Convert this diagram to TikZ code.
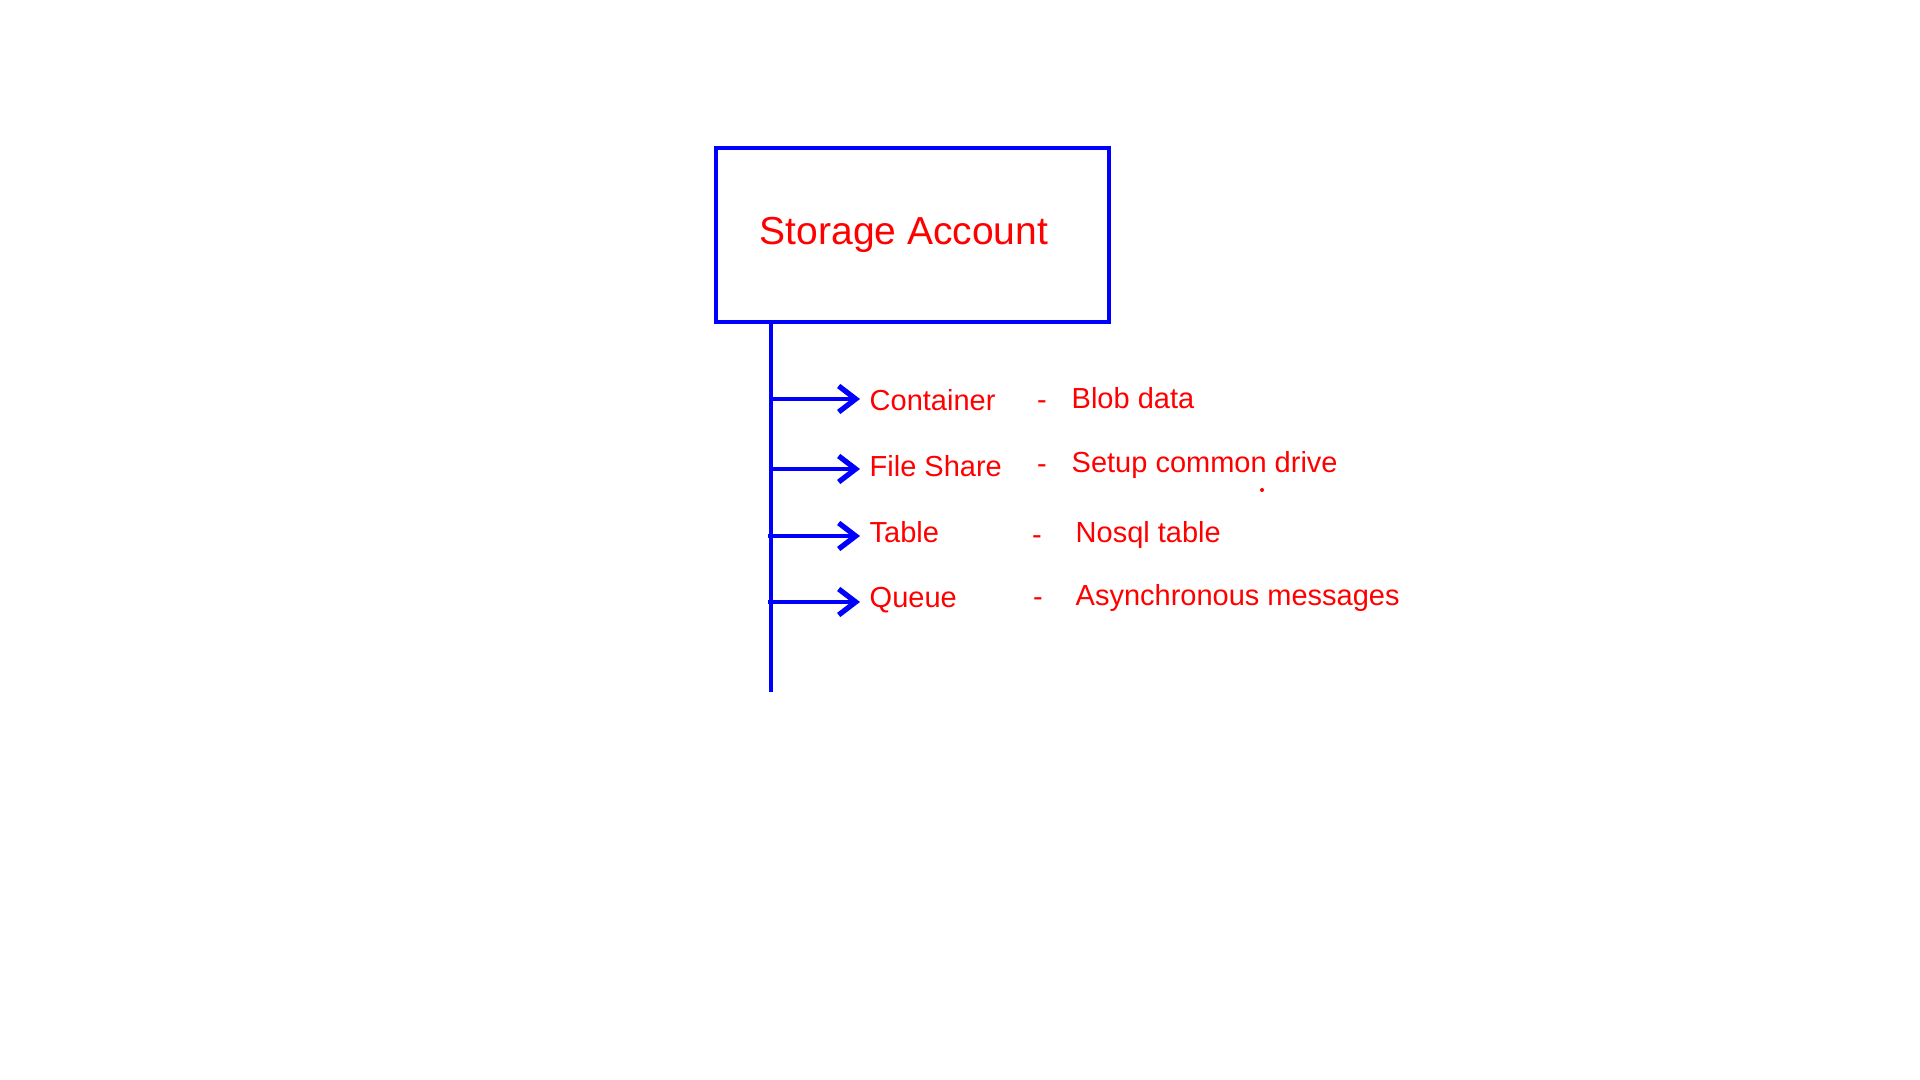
\documentclass[tikz,border=0pt]{standalone}
\usepackage{fontspec}
\setmainfont{Liberation Sans}
\usepackage{xcolor}
\usetikzlibrary{arrows.meta, positioning}

\begin{document}
\begin{tikzpicture}[every node/.style={font=\fontsize{8.25}{10}\selectfont, text=red},
    arr/.style={blue, line width=1.1pt, -{Straight Barb[length=0.17cm, width=0.26cm, line width=1.5pt]}},
    lbl/.style={anchor=base west, inner xsep=0.09cm, inner ysep=0pt},
    dsc/.style={anchor=base west, inner sep=0pt}]
    \useasboundingbox (0,0) rectangle (19.2,10.8);
    \node[draw=blue,line width=1.1pt,minimum width=3.93cm,minimum height=1.74cm,font=\fontsize{11.1}{13}\selectfont] (acct) at (9.125,8.45) {Storage Account\hspace*{0.17cm}};
    \coordinate (bot) at (7.714,3.88);
    \draw[blue,line width=1.1pt] (acct.south -| bot) -- (bot);
    \coordinate (c1) at (7.714,6.81);
    \coordinate (c2) at (7.714,6.11);
    \coordinate (c3) at (7.68,5.44);
    \coordinate (c4) at (7.68,4.78);
    \node[lbl] (cont) at (8.60,6.69) {Container};
    \node[lbl] (file) at (8.60,6.03) {File Share};
    \node[lbl] (tab) at (8.60,5.37) {Table};
    \node[lbl] (que) at (8.60,4.72) {Queue};
    \draw[arr] (c1) -- (c1 -| cont.west);
    \draw[arr] (c2) -- (c2 -| file.west);
    \draw[arr] (c3) -- (c3 -| tab.west);
    \draw[arr] (c4) -- (c4 -| que.west);
    \node[anchor=base,inner sep=0pt] (d1) at (10.42,6.70) {-};
    \node[anchor=base,inner sep=0pt] (d2) at (10.42,6.06) {-};
    \node[anchor=base,inner sep=0pt] (d3) at (10.37,5.35) {-};
    \node[anchor=base,inner sep=0pt] (d4) at (10.38,4.73) {-};
    \node[dsc] (blob) at (10.71,6.71) {Blob data};
    \node[dsc] (drive) at (10.71,6.07) {Setup common drive};
    \node[dsc] (nosql) at (10.75,5.37) {Nosql table};
    \node[dsc] (async) at (10.75,4.74) {Asynchronous messages};
    \fill[red] (12.62,5.90) circle (0.02);
\end{tikzpicture}
\end{document}
